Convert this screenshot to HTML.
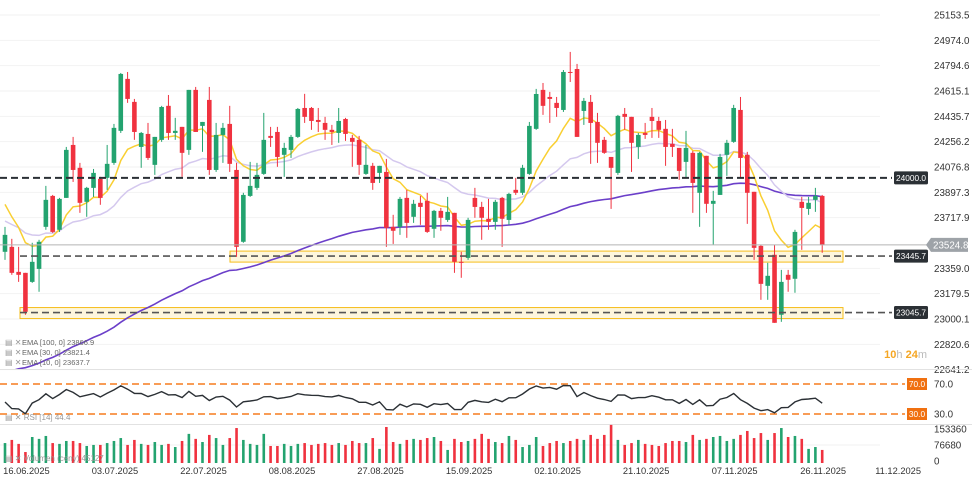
<!DOCTYPE html>
<html><head><meta charset="utf-8"><style>
html,body{margin:0;padding:0;background:#fff;}
svg{display:block;font-family:"Liberation Sans",sans-serif;}
</style></head><body>
<svg id="chart" width="972" height="485" viewBox="0 0 972 485">
<defs><clipPath id="mainClip"><rect x="0" y="0" width="860" height="369"/></clipPath></defs>
<g id="grid"></g>
<g id="yaxis"></g>
<line x1="0" y1="369.5" x2="972" y2="369.5" stroke="#e2e2e2"/>
<line x1="0" y1="424.5" x2="972" y2="424.5" stroke="#e2e2e2"/>
<g id="zones"></g>
<g id="ema" clip-path="url(#mainClip)"></g>
<g id="candles"></g>
<g id="levels"></g>
<g id="rsi"></g>
<g id="vol"></g>
<g id="xaxis"></g>
<g font-size="7.5" fill="#666">
  <text x="22" y="345">EMA [100, 0] 23866.9</text>
  <text x="22" y="355">EMA [30, 0] 23821.4</text>
  <text x="22" y="365">EMA [10, 0] 23637.7</text>
  <text x="5" y="345" fill="#999" font-size="8">▤ ✕</text>
  <text x="5" y="355" fill="#999" font-size="8">▤ ✕</text>
  <text x="5" y="365" fill="#999" font-size="8">▤ ✕</text>
  <text x="5" y="420" fill="#999" font-size="8">▤ ✕ RSI [14] 44.4</text>
  <text x="5" y="461" fill="#999" font-size="8">▤ ✕ Volumen (ceny) 45127</text>
</g>
<text x="927" y="358" text-anchor="end" font-size="11" font-weight="bold" fill="#f5a623">10<tspan fill="#bbb" font-weight="normal">h</tspan> 24<tspan fill="#bbb" font-weight="normal">m</tspan></text>
</svg>
<script>
const opens=[23476,23511,23334,23327,23263,23355,23653,23872,23632,23858,24233,24071,23830,23929,23993,24000,24106,24333,24701,24538,24219,24311,24092,24269,24510,24318,24361,24198,24623,24368,24552,24056,24304,24382,24056,23547,23872,23929,24028,24297,24325,24163,24198,24290,24495,24495,24410,24389,24340,24318,24417,24283,24269,24028,24085,24035,24042,23653,23653,23858,23724,23823,23837,23639,23766,23702,23752,23405,23433,23858,23794,23710,23688,23858,23702,23915,23894,24028,24347,24623,24573,24531,24481,24750,24771,24474,24538,24396,24269,24148,24035,24453,24432,24219,24318,24432,24403,24347,24241,24212,24113,24177,23894,24156,23816,23879,24163,24255,24481,24163,23901,23518,23235,23455,23030,23313,23285,23830,23780,23844,23872];
const highs=[23653,23568,23511,23327,23540,23561,23943,23879,23858,24219,24290,24106,23936,24063,24007,24233,24382,24743,24750,24559,24325,24389,24290,24510,24587,24425,24361,24623,24644,24396,24644,24389,24389,24510,24106,23894,24113,24106,24460,24361,24361,24248,24304,24495,24595,24502,24495,24432,24375,24495,24425,24304,24297,24233,24106,24085,24134,23738,23865,23915,23844,23872,23894,23773,23787,23865,23752,23476,23717,23929,23830,23851,23844,23865,23894,24000,24092,24396,24630,24672,24609,24573,24764,24892,24807,24566,24587,24460,24290,24148,24446,24495,24432,24318,24389,24495,24432,24410,24347,24212,24333,24191,24184,24156,23908,24170,24269,24517,24573,24184,23901,23525,23398,23525,23348,23348,23632,23865,23865,23929,23879];
const lows=[23419,23313,23263,23030,23256,23193,23632,23610,23617,23858,23971,23752,23724,23865,23809,23915,24092,24318,24531,24269,24071,24127,24021,24255,24269,24269,24007,24163,24325,24184,24021,24042,24106,24042,23440,23540,23865,23915,24021,24219,24078,24007,24141,24283,24389,24340,24325,24269,24233,24248,24262,24078,24021,24021,23915,23964,23511,23532,23596,23575,23681,23667,23610,23575,23625,23688,23327,23292,23419,23717,23561,23632,23632,23511,23667,23879,23879,24021,24340,24446,24389,24432,24467,24679,24290,24375,24099,24106,24170,23780,24021,24340,24042,24134,24276,24283,24283,24085,24148,23986,24000,23752,23653,23752,23526,23879,24014,24248,24000,23674,23419,23136,23136,22973,22980,23193,23186,23490,23738,23759,23469];
const closes=[23596,23327,23313,23051,23405,23547,23844,23617,23851,24198,24056,23823,23929,24035,23858,24099,24354,24736,24559,24325,24318,24141,24290,24502,24318,24333,24177,24623,24325,24396,24056,24304,24354,24099,23511,23879,23943,24021,24269,24283,24148,24212,24290,24488,24432,24403,24396,24340,24325,24403,24311,24255,24092,24092,23964,24085,23646,23625,23851,23681,23816,23794,23617,23766,23717,23759,23405,23398,23702,23794,23717,23688,23830,23710,23886,23894,24071,24368,24594,24510,24559,24495,24750,24743,24290,24545,24389,24248,24177,24071,24439,24432,24248,24304,24304,24403,24340,24219,24219,24049,24212,23964,24177,23816,23837,24148,24248,24495,24141,23894,23504,23249,23306,22973,23263,23278,23617,23787,23823,23872,23527];
const volumesK=[86,101,82,43,115,106,120,86,82,96,96,86,72,77,77,86,96,110,77,101,82,77,91,77,82,67,96,130,106,91,125,110,77,110,158,101,82,77,130,72,72,82,72,82,86,77,82,86,77,86,77,96,86,86,110,58,163,91,82,101,106,101,110,115,96,53,106,91,96,106,130,106,91,86,120,101,67,77,115,72,86,96,86,96,106,101,125,106,125,173,101,77,86,101,82,77,72,86,96,96,91,125,101,106,115,120,96,106,125,144,110,134,101,134,158,115,120,106,58,67,53];
const emaSeeds=[23860,23700,22600];
const emaPeriods=[10,30,100];
const rsiSeed=[40,47];
const priceTicks=[25153.5,24974.0,24794.6,24615.1,24435.7,24256.2,24076.8,23897.3,23717.9,23359.0,23179.5,23000.1,22820.6,22641.2];
const levelValues=[24000.0,23445.7,23045.7];
const currentPrice=23524.8;
const dateLabels=["16.06.2025","03.07.2025","22.07.2025","08.08.2025","27.08.2025","15.09.2025","02.10.2025","21.10.2025","07.11.2025","26.11.2025","11.12.2025"];
const dateIndex=[3,16,29,42,55,68,81,94,107,120,131];
const volTicks=[153360,76680,0];
const rsiLevels=[70,30];

const NS="http://www.w3.org/2000/svg";
function mk(tag,attrs,parent){const e=document.createElementNS(NS,tag);for(const k in attrs)e.setAttribute(k,attrs[k]);parent.appendChild(e);return e;}
const X=i=>5+i*6.81;
const Y=p=>15+(25153.5-p)*0.14117;
const RY=v=>384+(70-v)*0.75;
const VY=v=>461-v/153360*32;
const G="#23a36f",R="#f0323f";
const $=id=>document.getElementById(id);

priceTicks.forEach(p=>{
  const l=mk('line',{x1:0,x2:880,y1:Y(p),y2:Y(p),stroke:'#f2f2f2'},$('grid'));
  
  
  const t=mk('text',{x:934,y:Y(p)+3.5,'font-size':9.8,fill:'#333'},$('yaxis'));
  t.textContent=p.toFixed(1);
  
  
});

[[230,23445.7],[20,23045.7]].forEach((z,k)=>{
  const r=mk('rect',{x:z[0],y:Y(z[1])-5,width:843-z[0],height:11,fill:'#fdf6dc',stroke:'#f6bd1a','stroke-width':1},$('zones'));
  
  
});

const cp=mk('line',{x1:0,x2:930,y1:Y(currentPrice),y2:Y(currentPrice),stroke:'#b5b5b5','stroke-width':1},$('levels'));



const emaColors=['#f9cf32','#d4c8ee','#6b3fc9'];
const emaWidths=[1.5,1.5,1.6];
[2,1,0].forEach(k=>{
  const a=2/(emaPeriods[k]+1);let e=emaSeeds[k];let d='';
  closes.forEach((c,i)=>{e=a*c+(1-a)*e;d+=(i?'L':'M')+X(i).toFixed(1)+','+Y(e).toFixed(1);});
  const p=mk('path',{d:d,fill:'none',stroke:emaColors[k],'stroke-width':emaWidths[k]},$('ema'));
  
  
});

closes.forEach((c,i)=>{
  const o=opens[i],up=c>=o,col=up?G:R;
  const w=mk('line',{x1:X(i),x2:X(i),y1:Y(highs[i]),y2:Y(lows[i]),stroke:col,'stroke-width':1},$('candles'));
  
  
  const top=Y(Math.max(o,c)),bot=Y(Math.min(o,c));
  const b=mk('rect',{x:X(i)-2.3,y:top,width:4.6,height:Math.max(1,bot-top),fill:col},$('candles'));
  
  
});

levelValues.forEach((v,k)=>{
  const y=Y(v);
  const l=mk('line',{x1:k?20:0,x2:892,y1:y,y2:y,stroke:k?'#555':'#2b3035','stroke-width':k?1.6:2,'stroke-dasharray':'7,4'},$('levels'));
  
  
  const r=mk('rect',{x:894,y:y-6.5,width:34,height:13,rx:1.5,fill:'#2b3035'},$('levels'));
  
  
  const t=mk('text',{x:911,y:y+3,'text-anchor':'middle','font-size':8.3,fill:'#fff'},$('levels'));
  t.textContent=v.toFixed(1);
  
  
});
{const y=Y(currentPrice);
const r=mk('path',{d:`M926,${y} L931,${y-7} L968,${y-7} L968,${y+7} L931,${y+7} Z`,fill:'#9ea3a8'},$('levels'));


const t=mk('text',{x:933,y:y+3.5,'font-size':9.8,fill:'#fff'},$('levels'));
t.textContent=currentPrice.toFixed(1);

}

rsiLevels.forEach(v=>{
  const l=mk('line',{x1:0,x2:905,y1:RY(v),y2:RY(v),stroke:'#f57c1f','stroke-width':1.6,'stroke-dasharray':'7,4'},$('rsi'));
  
  
  const r=mk('rect',{x:907,y:RY(v)-6,width:20,height:12,fill:'#f07010'},$('rsi'));
  
  
  const t=mk('text',{x:917,y:RY(v)+3,'text-anchor':'middle','font-size':8.3,fill:'#fff'},$('rsi'));
  t.textContent=v.toFixed(1);
  
  
  const t2=mk('text',{x:934,y:RY(v)+3.5,'font-size':9.8,fill:'#333'},$('rsi'));
  t2.textContent=v.toFixed(1);
  
  
});
{let ag=rsiSeed[0],al=rsiSeed[1],d='';
closes.forEach((c,i)=>{
  if(i>0){const ch=c-closes[i-1];ag=(ag*13+Math.max(ch,0))/14;al=(al*13+Math.max(-ch,0))/14;}
  const v=100-100/(1+ag/al);
  d+=(i?'L':'M')+X(i).toFixed(1)+','+RY(v).toFixed(1);
});
const p=mk('path',{d:d,fill:'none',stroke:'#2b3035','stroke-width':1.4},$('rsi'));

}

volTicks.forEach(v=>{
  const t=mk('text',{x:934,y:VY(v)+3.5,'font-size':9.8,fill:'#333'},$('vol'));
  t.textContent=String(v);
  
  
});
{const gl=mk('line',{x1:0,x2:880,y1:VY(76680),y2:VY(76680),stroke:'#f2f2f2'},$('vol'));

}
volumesK.forEach((v,i)=>{
  const val=v*1000,y=VY(val);
  const b=mk('rect',{x:X(i)-1.3,y:y,width:2.6,height:VY(0)+2-y,fill:closes[i]>=opens[i]?G:R},$('vol'));
  
  
});

dateLabels.forEach((s,k)=>{
  const t=mk('text',{x:X(dateIndex[k])+1,y:474,'text-anchor':'middle','font-size':9.3,fill:'#333'},$('xaxis'));
  t.textContent=s;
  
  
});
</script>
</body></html>
